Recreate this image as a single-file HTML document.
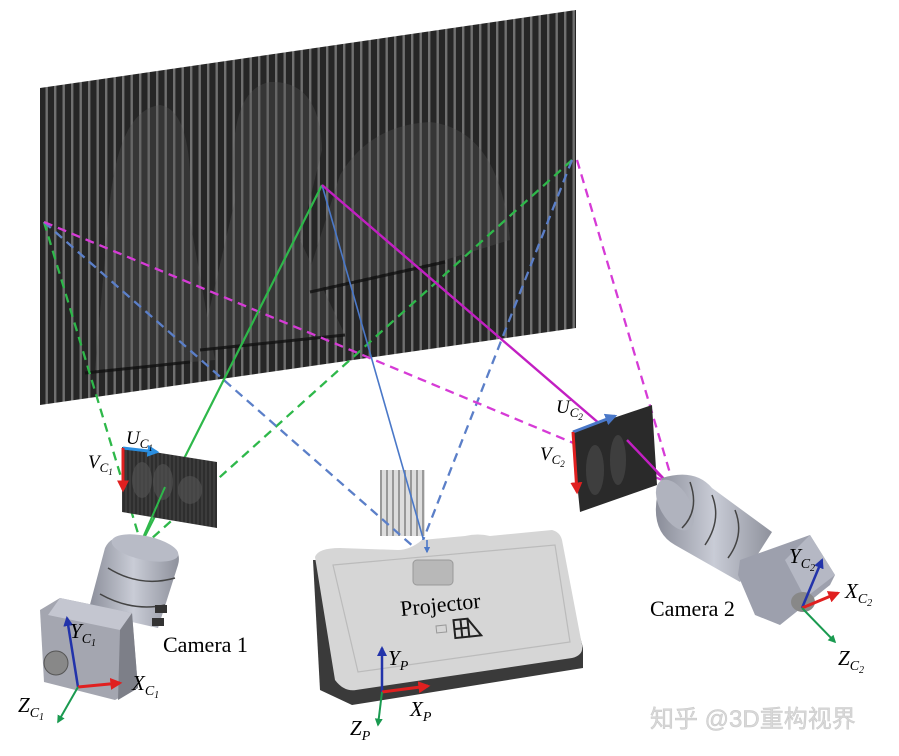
<!DOCTYPE html>
<html><head><meta charset="utf-8"><style>
html,body{margin:0;padding:0;background:#fff;}
svg{display:block;}
text{font-family:"Liberation Serif",serif;}
</style></head><body>
<svg width="899" height="756" viewBox="0 0 899 756" xmlns="http://www.w3.org/2000/svg">
<defs>
<pattern id="str" width="8.5" height="10" patternUnits="userSpaceOnUse">
<rect width="8.5" height="10" fill="#262626"/>
<rect x="3" width="2.4" height="10" fill="#707070"/>
</pattern>
<pattern id="str2" width="4" height="10" patternUnits="userSpaceOnUse">
<rect width="4" height="10" fill="#2e2e2e"/>
<rect x="1.5" width="1" height="10" fill="#4a4a4a"/>
</pattern>
<pattern id="pst" width="6" height="10" patternUnits="userSpaceOnUse">
<rect width="6" height="10" fill="#ddd"/>
<rect x="2" width="2" height="10" fill="#999"/>
</pattern>
<linearGradient id="lens" x1="0" y1="0" x2="1" y2="0">
<stop offset="0" stop-color="#8a8d99"/><stop offset="0.5" stop-color="#c9ccd6"/><stop offset="1" stop-color="#8e919c"/>
</linearGradient>
<marker id="ar" viewBox="0 0 10 10" refX="8" refY="5" markerWidth="4" markerHeight="4" orient="auto"><path d="M0,0L10,5L0,10z" fill="context-stroke"/></marker>
<marker id="ab" viewBox="0 0 10 10" refX="8" refY="5" markerWidth="4" markerHeight="4" orient="auto"><path d="M0,0L10,5L0,10z" fill="#2233aa"/></marker>
<marker id="arr" viewBox="0 0 10 10" refX="8" refY="5" markerWidth="4" markerHeight="4" orient="auto"><path d="M0,0L10,5L0,10z" fill="#e02020"/></marker>
<marker id="ag" viewBox="0 0 10 10" refX="8" refY="5" markerWidth="4" markerHeight="4" orient="auto"><path d="M0,0L10,5L0,10z" fill="#1a9a50"/></marker>
<marker id="abl" viewBox="0 0 10 10" refX="8" refY="5" markerWidth="4" markerHeight="4" orient="auto"><path d="M0,0L10,5L0,10z" fill="#4a78c8"/></marker>
</defs>

<polygon points="40,88 576,10 576,328 40,405" fill="url(#str)"/>
<g fill="#555" opacity="0.35">
<path d="M95,370 L110,200 Q120,110 160,105 Q195,110 190,220 L215,360 Z"/>
<path d="M200,350 L235,200 Q225,90 270,82 Q320,80 322,150 L300,240 L345,335 Z"/>
<path d="M305,285 L340,175 Q370,125 430,122 Q500,130 510,240 L445,260 L320,288 Z"/>
</g>
<g fill="none" stroke="#111" stroke-width="3" opacity="0.8">
<path d="M85,373 L190,362"/><path d="M200,350 L345,335"/><path d="M310,292 L445,262"/>
</g>

<rect x="380" y="470" width="45" height="66" fill="url(#pst)"/>

<g fill="none" stroke-width="2.3" stroke-dasharray="9,6">
<path d="M44,222 L140,540" stroke="#2eb84a"/>
<path d="M572,160 L150,540" stroke="#2eb84a"/>
<path d="M44,222 L415,548" stroke="#5b7fc8"/>
<path d="M572,160 L420,548" stroke="#5b7fc8"/>
<path d="M44,222 L662,480" stroke="#d63bd6"/>
<path d="M577,160 L672,480" stroke="#d63bd6"/>
</g>
<path d="M322,185 L143,540" stroke="#2eb84a" stroke-width="2.2" fill="none"/>
<path d="M322,185 L427,552" stroke="#4a78c8" stroke-width="1.6" fill="none" marker-end="url(#abl)"/>
<path d="M322,185 L665,480" stroke="#c21fc2" stroke-width="2.4" fill="none"/>

<polygon points="122,447 217,462 217,528 122,512" fill="url(#str2)"/>
<g fill="#555" opacity="0.6"><ellipse cx="142" cy="480" rx="10" ry="18"/><ellipse cx="163" cy="482" rx="10" ry="18"/><ellipse cx="190" cy="490" rx="12" ry="14"/></g>
<path d="M142,540 L165,487" stroke="#2eb84a" stroke-width="2"/>
<path d="M123,448 L157,452" stroke="#2a8ee0" stroke-width="3" marker-end="url(#ar)"/>
<path d="M123,448 L123,490" stroke="#e02020" stroke-width="3" marker-end="url(#ar)"/>
<text x="126" y="444" font-size="19" font-style="italic">U<tspan font-size="13" dy="4">C</tspan><tspan font-size="9" dy="3">1</tspan></text>
<text x="88" y="468" font-size="19" font-style="italic">V<tspan font-size="13" dy="4">C</tspan><tspan font-size="9" dy="3">1</tspan></text>

<polygon points="572,432 652,405 657,485 580,512" fill="#2a2a2a"/>
<g fill="#444" opacity="0.8"><ellipse cx="595" cy="470" rx="9" ry="25"/><ellipse cx="618" cy="460" rx="8" ry="25"/></g>
<path d="M627,440 L665,480" stroke="#c21fc2" stroke-width="2.4"/>
<path d="M573,432 L615,416" stroke="#4a78c8" stroke-width="3" marker-end="url(#ar)"/>
<path d="M573,432 L577,492" stroke="#e02020" stroke-width="3" marker-end="url(#ar)"/>
<text x="556" y="413" font-size="19" font-style="italic">U<tspan font-size="13" dy="4">C</tspan><tspan font-size="9" dy="3">2</tspan></text>
<text x="540" y="460" font-size="19" font-style="italic">V<tspan font-size="13" dy="4">C</tspan><tspan font-size="9" dy="3">2</tspan></text>

<g>
<path d="M140,536 Q185,542 178,565 L158,628 L88,612 L105,548 Q112,532 140,536 Z" fill="url(#lens)"/>
<ellipse cx="145" cy="548" rx="34" ry="12" fill="#b8bbc6" transform="rotate(12 145 548)"/>
<path d="M108,568 Q140,588 175,578 M100,594 Q132,612 165,605" stroke="#444" stroke-width="1.5" fill="none"/>
<rect x="155" y="605" width="12" height="8" fill="#333"/><rect x="152" y="618" width="12" height="8" fill="#333"/>
<polygon points="60,598 132,613 138,688 115,700 44,682 40,610" fill="#a4a6b0"/>
<polygon points="60,598 132,613 120,630 48,615" fill="#c4c6d0"/>
<polygon points="120,630 132,613 138,688 118,700" fill="#7d7f88"/>
<circle cx="56" cy="663" r="12" fill="#888" stroke="#555"/>
</g>
<path d="M78,687 L67,618" stroke="#2233aa" stroke-width="2.5" marker-end="url(#ab)"/>
<path d="M78,687 L120,683" stroke="#e02020" stroke-width="3" marker-end="url(#arr)"/>
<path d="M78,687 L58,722" stroke="#1a9a50" stroke-width="2" marker-end="url(#ag)"/>
<text x="70" y="638" font-size="21" font-style="italic">Y<tspan font-size="14" dy="5">C</tspan><tspan font-size="10" dy="3">1</tspan></text>
<text x="132" y="690" font-size="21" font-style="italic">X<tspan font-size="14" dy="5">C</tspan><tspan font-size="10" dy="3">1</tspan></text>
<text x="18" y="712" font-size="21" font-style="italic">Z<tspan font-size="14" dy="5">C</tspan><tspan font-size="10" dy="3">1</tspan></text>
<text x="163" y="652" font-size="22">Camera 1</text>

<polygon points="313,560 320,690 352,705 583,668 583,648 560,560" fill="#3a3a3a"/>
<path d="M315,557 Q318,548 340,548 L398,550 Q410,550 422,540 L465,536 Q478,533 490,536 L552,530 Q560,532 562,540 L582,645 Q584,655 572,658 L356,690 Q344,692 335,680 Z" fill="#d6d6d6"/>
<path d="M333,565 L555,545 L570,642 L358,672 Z" fill="none" stroke="#bbb" stroke-width="1.2"/>
<rect x="413" y="560" width="40" height="25" rx="4" fill="#b8b8b8" stroke="#999"/>
<path d="M427,540 L427,552" stroke="#4a78c8" stroke-width="1.6" marker-end="url(#abl)"/>
<text x="400" y="612" font-size="22" transform="rotate(-6 440 605)">Projector</text>
<g transform="translate(436,626) rotate(-6)" stroke="#222" stroke-width="2" fill="none">
<rect x="0" y="0" width="10" height="7" stroke="#999" stroke-width="1"/>
<rect x="18" y="-4" width="14" height="18"/><path d="M18,5 H32 M25,-4 V14 M32,-4 L44,14 L32,14"/>
</g>
<path d="M382,692 L382,648" stroke="#2233aa" stroke-width="2.5" marker-end="url(#ab)"/>
<path d="M382,692 L428,686" stroke="#e02020" stroke-width="3" marker-end="url(#arr)"/>
<path d="M382,692 L378,725" stroke="#1a9a50" stroke-width="2" marker-end="url(#ag)"/>
<text x="388" y="665" font-size="21" font-style="italic">Y<tspan font-size="14" dy="5">P</tspan></text>
<text x="410" y="716" font-size="21" font-style="italic">X<tspan font-size="14" dy="5">P</tspan></text>
<text x="350" y="735" font-size="21" font-style="italic">Z<tspan font-size="14" dy="5">P</tspan></text>

<g>
<path d="M662,478 Q695,468 712,488 L772,532 L740,582 L675,545 Q645,528 662,478 Z" fill="url(#lens)"/>
<ellipse cx="675" cy="505" rx="15" ry="28" fill="#b0b3be" transform="rotate(-30 675 505)"/>
<path d="M690,482 Q700,510 682,528 M712,495 Q722,520 705,545 M735,510 Q745,535 728,558" stroke="#444" stroke-width="1.5" fill="none"/>
<polygon points="740,560 810,535 835,575 830,585 780,625 755,615 738,575" fill="#9da0ad"/>
<polygon points="810,535 835,575 805,598 785,560" fill="#b5b8c4"/>
<ellipse cx="803" cy="602" rx="12" ry="10" fill="#888"/>
</g>
<path d="M802,608 L822,560" stroke="#2233aa" stroke-width="2.5" marker-end="url(#ab)"/>
<path d="M802,608 L838,593" stroke="#e02020" stroke-width="3" marker-end="url(#arr)"/>
<path d="M802,608 L835,642" stroke="#1a9a50" stroke-width="2" marker-end="url(#ag)"/>
<text x="789" y="563" font-size="21" font-style="italic">Y<tspan font-size="14" dy="5">C</tspan><tspan font-size="10" dy="3">2</tspan></text>
<text x="845" y="598" font-size="21" font-style="italic">X<tspan font-size="14" dy="5">C</tspan><tspan font-size="10" dy="3">2</tspan></text>
<text x="838" y="665" font-size="21" font-style="italic">Z<tspan font-size="14" dy="5">C</tspan><tspan font-size="10" dy="3">2</tspan></text>
<text x="650" y="616" font-size="22">Camera 2</text>

<text x="650" y="727" font-size="24" fill="#d8d8d8" stroke="#c8c8c8" stroke-width="0.5" style="font-family:'Liberation Sans','Noto Sans CJK SC',sans-serif">知乎 @3D重构视界</text>
</svg>
</body></html>
